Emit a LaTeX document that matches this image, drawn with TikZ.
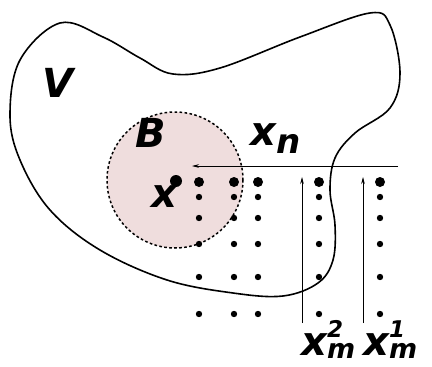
\documentclass[tikz,border=0pt]{standalone}
\usepackage{fontspec}
\setsansfont{DejaVu Sans}[BoldItalicFont={DejaVu Sans Bold Oblique}]
\usepackage{xcolor}
\usepackage{tikz}
\usetikzlibrary{arrows.meta,calc}
\definecolor{ballfill}{HTML}{EFDDDD}

\newcommand{\bigf}{\fontsize{40}{40}\selectfont}
\newcommand{\subf}{\fontsize{27}{27}\selectfont}
\newcommand{\supf}{\fontsize{23}{23}\selectfont}
% letter with sub- and superscript, set by hand
\newcommand{\lblsub}[3]{#1\makebox[0pt][l]{\raisebox{18pt}{\supf #3}}\raisebox{-3pt}{\subf #2}}

\begin{document}
\begin{tikzpicture}[
      x=1pt, y=-1pt,
      every node/.style={font=\sffamily\bfseries\itshape\bigf, inner sep=0pt},
      blob/.style={draw, line width=1.6pt},
      ball/.style={fill=ballfill, draw, line width=1.5pt, dash pattern=on 2.6pt off 2.4pt},
      bigdot/.style={fill=black},
      grid/.style={fill=black},
      axis/.style={draw, line width=0.6pt, -{Stealth[length=7pt,width=3.5pt]}}
  ]
    \useasboundingbox (0,0) rectangle (432,367);

    % the region V
    \draw[blob] plot[smooth cycle, tension=0.6] coordinates {
      (60,23) (103,37) (140,58) (173,74) (220,68) (300,37) (370,13) (390,25)
      (400,73) (390,108) (355,133) (335,158) (330,190) (335,225) (333,260)
      (318,283) (283,296) (233,293) (167,280) (100,250) (50,210) (20,160)
      (10,115) (20,60)};

    % the ball B round x
    \draw[ball] (175,180) circle (68);

    % sample points
    \foreach \c in {199,234,258,319,380} {
      \fill[grid] (\c,182) circle (5);
      \foreach \r in {197,218,244,277,314}
        \fill[grid] (\c,\r) circle (3.2);
    }
    \fill[bigdot] (176,181) circle (6);

    \coordinate (xnR) at (398,166);
    \coordinate (xnL) at (192,166);
    \coordinate (m2b) at (302,323);
    \coordinate (m2t) at (302,177);
    \coordinate (m1b) at (363,323);
    \coordinate (m1t) at (363,177);
    \draw[axis] (xnR) -- (xnL);
    \draw[axis] (m2b) -- (m2t);
    \draw[axis] (m1b) -- (m1t);

    \node[anchor=base] (V) at (58,97) {V};
    \node[anchor=base] (B) at (151,147) {B};
    \node[anchor=base] (x) at (164,207) {x};
    \node[anchor=base west] (xn) at (250,145) {x\raisebox{-8pt}{\fontsize{34}{34}\selectfont n}};
    \node[anchor=base west] (xm2) at (301,355) {\lblsub{x}{m}{2}};
    \node[anchor=base west] (xm1) at (363,355) {\lblsub{x}{m}{1}};
  \end{tikzpicture}
\end{document}
